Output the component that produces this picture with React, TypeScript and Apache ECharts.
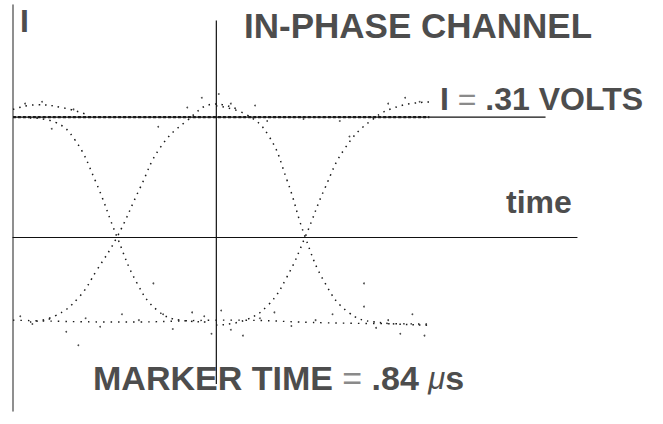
import React, { useEffect, useRef } from "react";
import * as echarts from "echarts";

// time in microseconds, voltage in volts
const markerTime = 0.84;
const levelVolts = 0.31;
const markerLine = [[markerTime, 0.56], [markerTime, -0.38]];
const levelLine = [[0, levelVolts], [2.2, levelVolts]];

const upperTrace = [[0, 0.31], [0.45, 0.31], [0.9, 0.31], [1.3, 0.31], [1.72, 0.31]];
const lowerTrace = [[0, -0.215], [0.45, -0.22], [0.9, -0.215], [1.3, -0.222], [1.72, -0.225]];
const upperHump0 = [[0, 0.33], [0.1, 0.342], [0.2, 0.335], [0.3, 0.318]];
const falling1 = [[0.07, 0.308], [0.174, 0.297], [0.256, 0.251], [0.339, 0.147], [0.43, 0], [0.512, -0.119], [0.595, -0.189], [0.69, -0.215], [0.814, -0.22]];
const rising1 = [[0.07, -0.22], [0.174, -0.204], [0.269, -0.158], [0.347, -0.085], [0.43, 0], [0.525, 0.127], [0.607, 0.23], [0.711, 0.297], [0.839, 0.344], [0.938, 0.328]];
const falling2 = [[0.839, 0.339], [0.959, 0.318], [1.054, 0.264], [1.132, 0.147], [1.207, 0], [1.289, -0.119], [1.384, -0.194], [1.496, -0.22], [1.723, -0.228]];
const rising2 = [[0.839, -0.228], [0.959, -0.215], [1.054, -0.176], [1.132, -0.103], [1.207, 0], [1.289, 0.127], [1.372, 0.23], [1.483, 0.303], [1.599, 0.339], [1.723, 0.349]];
const noiseDots = [
  [0.03, -0.205], [0.08, -0.225], [0.15, -0.212], [0.22, -0.245], [0.3, -0.21], [0.36, -0.232],
  [0.45, -0.2], [0.52, -0.215], [0.62, -0.2], [0.66, -0.238], [0.74, -0.195], [0.79, -0.205],
  [0.82, -0.25], [0.86, -0.19], [0.9, -0.24], [0.95, -0.255], [1.02, -0.21], [1.08, -0.195],
  [1.15, -0.23], [1.25, -0.215], [1.32, -0.2], [1.45, -0.18], [1.5, -0.235], [1.55, -0.215],
  [1.6, -0.25], [1.65, -0.2], [1.7, -0.255], [0.05, 0.345], [0.12, 0.35], [0.25, 0.33],
  [0.72, 0.335], [0.78, 0.36], [0.85, 0.37], [0.9, 0.345], [1.0, 0.34], [1.55, 0.345],
  [1.62, 0.36], [1.68, 0.35], [0.16, 0.28], [0.6, 0.285], [1.39, 0.26], [0.27, -0.28],
  [0.58, -0.12], [1.45, -0.12], [1.05, 0.3], [1.2, 0.305], [1.35, 0.3]
];

const FONT = "'Liberation Sans', Arial, Helvetica, sans-serif";
const TEXT = "#4d4d4d";
const EQ = "#8a8a8a";

export default function App() {
  const ref = useRef<HTMLDivElement>(null);
  useEffect(() => {
    document.body.style.margin = "0";
    if (!ref.current) return;
    const chart = echarts.init(ref.current, null, { renderer: "svg" });
    const trace = (data: number[][], width = 1.5, dash: any = [1.5, 5]) => ({
      type: "line",
      data,
      smooth: 0.45,
      symbol: "none",
      silent: true,
      lineStyle: { color: "#1a1a1a", width, type: dash },
    });
    chart.setOption({
      animation: false,
      backgroundColor: "#ffffff",
      grid: { left: 13, right: 86, top: 5, bottom: 13 },
      xAxis: {
        type: "value",
        min: 0,
        max: 2.33,
        axisLine: { show: true, onZero: true, lineStyle: { color: "#111", width: 1.2 } },
        axisTick: { show: false },
        axisLabel: { show: false },
        splitLine: { show: false },
      },
      yAxis: {
        type: "value",
        min: -0.45,
        max: 0.6,
        axisLine: { show: true, lineStyle: { color: "#6a6a6a", width: 1.5 } },
        axisTick: { show: false },
        axisLabel: { show: false },
        splitLine: { show: false },
      },
      series: [
        { type: "line", data: markerLine, symbol: "none", silent: true, lineStyle: { color: "#111", width: 1.2 } },
        { type: "line", data: levelLine, symbol: "none", silent: true, lineStyle: { color: "#111", width: 1.2 } },
        trace(upperTrace, 2.2, [3, 2]),
        trace(lowerTrace, 1.4, [1.5, 6]),
        trace(upperHump0),
        trace(falling1),
        trace(rising1),
        trace(falling2),
        trace(rising2),
        {
          type: "scatter",
          data: noiseDots,
          symbolSize: 1.8,
          silent: true,
          itemStyle: { color: "#222" },
        },
      ],
      graphic: [
        { type: "text", left: 20, top: 5, style: { text: "I", font: `bold 32px ${FONT}`, fill: TEXT } },
        { type: "text", left: 244, top: 8, style: { text: "IN-PHASE CHANNEL", font: `bold 35px ${FONT}`, fill: TEXT } },
        {
          type: "text", left: 440, top: 83,
          style: {
            text: "{b|I }{e|= }{b|.31 VOLTS}",
            rich: {
              b: { font: `bold 32px ${FONT}`, fill: TEXT, color: TEXT },
              e: { font: `32px ${FONT}`, fill: EQ, color: EQ },
            },
          },
        },
        { type: "text", left: 506, top: 186, style: { text: "time", font: `bold 32px ${FONT}`, fill: TEXT } },
        {
          type: "text", left: 93, top: 361,
          style: {
            text: "{b|MARKER TIME }{e|= }{b|.84 }{m|μ}{b|s}",
            rich: {
              b: { font: `bold 34px ${FONT}`, fill: TEXT, color: TEXT },
              e: { font: `34px ${FONT}`, fill: EQ, color: EQ },
              m: { font: `italic 31px ${FONT}`, fill: TEXT, color: TEXT },
            },
          },
        },
      ],
    });
    return () => chart.dispose();
  }, []);
  return <div ref={ref} style={{ width: 663, height: 424 }} />;
}
